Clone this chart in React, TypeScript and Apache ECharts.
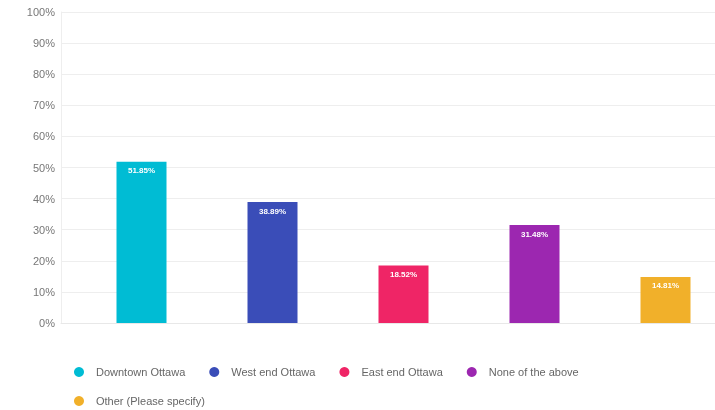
import React, { useEffect, useRef } from "react";
import * as echarts from "echarts";

const categories = ["Downtown Ottawa", "West end Ottawa", "East end Ottawa", "None of the above", "Other (Please specify)"];
const values = [51.85, 38.89, 18.52, 31.48, 14.81];
const colors = ["#00BCD4", "#3A4DB8", "#EF2566", "#9C27B0", "#F1B02A"];
const yTicks = { min: 0, max: 100, interval: 10 };

export default function App() {
  const ref = useRef<HTMLDivElement>(null);
  useEffect(() => {
    if (!ref.current) return;
    const chart = echarts.init(ref.current, undefined, { renderer: "svg" });
    chart.setOption({
      animation: false,
      textStyle: { fontFamily: "Arial, 'Liberation Sans', sans-serif" },
      grid: { left: 61, width: 685, top: 12, height: 311, outerBoundsMode: "none", containLabel: false },
      legend: {
        left: 69,
        top: 360,
        width: 540,
        icon: "circle",
        itemWidth: 10,
        itemHeight: 10,
        itemGap: 15,
        textStyle: { fontSize: 11, color: "#666", lineHeight: 14, padding: [0, 9, 0, 7] },
        data: categories,
      },
      xAxis: {
        type: "category",
        data: [""],
        axisLine: { show: true, lineStyle: { color: "#e8e8e8" } },
        axisTick: { show: false },
        axisLabel: { show: false },
      },
      yAxis: {
        type: "value",
        min: yTicks.min,
        max: yTicks.max,
        interval: yTicks.interval,
        axisLine: { show: true, lineStyle: { color: "#eeeeee" } },
        axisTick: { show: false },
        axisLabel: { formatter: "{value}%", color: "#777", fontSize: 11, margin: 6 },
        splitLine: { lineStyle: { color: "#eeeeee" } },
      },
      series: categories.map((name, i) => ({
        name,
        type: "bar",
        data: [values[i]],
        barWidth: 50,
        barGap: "162%",
        itemStyle: { color: colors[i] },
        label: {
          show: true,
          position: "insideTop",
          distance: 5,
          color: "#fff",
          fontSize: 8,
          fontWeight: "bold",
          formatter: (p: any) => p.value.toFixed(2) + "%",
        },
      })),
    });
    return () => chart.dispose();
  }, []);
  return <div ref={ref} style={{ position: "fixed", left: 0, top: 0, width: 715, height: 410 }} />;
}
